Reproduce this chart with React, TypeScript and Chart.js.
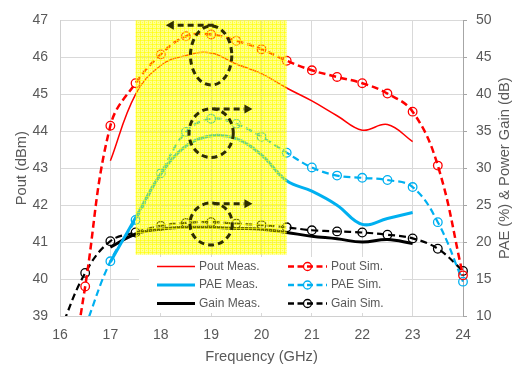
import React, { useEffect, useRef } from "react";
import { Chart, registerables } from "chart.js";

Chart.register(...registerables);

// ---- Data ----
const freqMeas = [17, 17.5, 18, 18.5, 19, 19.5, 20, 20.5, 21, 21.5, 22, 22.5, 23];
const poutMeas = [43.2, 45.0, 45.78, 46.05, 46.12, 45.82, 45.56, 45.17, 44.82, 44.42, 44.03, 44.18, 43.72];
const paeMeas = [17.3, 23.3, 29.2, 33.0, 34.4, 34.0, 31.8, 28.3, 26.9, 25.0, 22.4, 23.2, 24.0];
const gainMeas = [19.3, 21.1, 21.75, 22.0, 22.0, 21.85, 21.75, 21.3, 20.8, 20.45, 20.0, 20.35, 19.8];

const freqSim = [16, 16.5, 17, 17.5, 18, 18.5, 19, 19.5, 20, 20.5, 21, 21.5, 22, 22.5, 23, 23.5, 24];
const poutSim = [35.5, 39.8, 44.15, 45.3, 46.08, 46.57, 46.62, 46.45, 46.22, 45.91, 45.65, 45.47, 45.3, 45.02, 44.53, 43.07, 40.1];
const paeSim = [null, 8.5, 17.4, 23.0, 29.3, 34.9, 36.7, 36.0, 34.25, 32.1, 30.1, 29.0, 28.7, 28.4, 27.45, 22.7, 14.65];
const gainSim = [8, 15.83, 20.13, 21.3, 22.2, 22.6, 22.7, 22.5, 22.3, 22.0, 21.6, 21.45, 21.3, 21.0, 20.5, 19.1, 16.1];

const legendLeft = ["Pout Meas.", "PAE Meas.", "Gain Meas."];
const legendRight = ["Pout Sim.", "PAE Sim.", "Gain Sim."];

// highlighted band (GHz / dBm)
const band = { xMin: 17.5, xMax: 20.5, yMin: 40.66 };
// annotation ellipses (GHz / dBm), arrows: from ax0 to ax1 at ay
const marks = [
  { cx: 19.0, cy: 46.05, rx: 0.41, ry: 0.8, ax0: 19.05, ax1: 18.1, ay: 46.87 },
  { cx: 19.0, cy: 43.95, rx: 0.44, ry: 0.66, ax0: 19.05, ax1: 19.82, ay: 44.6 },
  { cx: 19.0, cy: 41.49, rx: 0.42, ry: 0.57, ax0: 19.05, ax1: 19.82, ay: 42.04 },
];

const RED = "#FF0000";
const BLUE = "#00B0F0";
const BLACK = "#000000";
const TXT = "#595959";
const FONT = "'Liberation Sans', Arial, sans-serif";

const xy = (xs: number[], ys: (number | null)[]) => xs.map((x, i) => ({ x, y: ys[i] }));

export default function App() {
  const ref = useRef<HTMLCanvasElement | null>(null);

  useEffect(() => {
    const canvas = ref.current;
    if (!canvas) return;

    // yellow textured pattern
    const pc = document.createElement("canvas");
    pc.width = 4;
    pc.height = 4;
    const pctx = pc.getContext("2d")!;
    pctx.fillStyle = "rgba(255,255,0,0.42)";
    pctx.fillRect(0, 0, 4, 4);
    pctx.fillStyle = "rgba(255,255,0,0.62)";
    pctx.fillRect(0, 0, 4, 1);
    pctx.fillRect(0, 0, 1, 4);
    pctx.fillStyle = "rgba(255,255,0,0.55)";
    pctx.fillRect(2, 2, 1, 1);

    const clip = { left: 0, top: 6, right: 8, bottom: 0 };

    const overlay = {
      id: "overlay",
      beforeDatasetsDraw(chart: any) {
        const ctx = chart.ctx;
        ctx.save();
        ctx.fillStyle = "#ffffff";
        ctx.fillRect(139, 257, 263, 56);
        ctx.restore();
      },
      afterDatasetsDraw(chart: any) {
        const { ctx, chartArea: ca, scales } = chart;
        const xs = scales.x;
        const ys = scales.y;
        const x0 = xs.getPixelForValue(band.xMin);
        const x1 = xs.getPixelForValue(band.xMax);
        const yb = ys.getPixelForValue(band.yMin);
        ctx.save();
        const pat = ctx.createPattern(pc, "repeat");
        ctx.fillStyle = pat || "rgba(255,255,0,0.5)";
        ctx.fillRect(x0, ca.top, x1 - x0, yb - ca.top);

        ctx.strokeStyle = "#2e2e00";
        ctx.fillStyle = "#2e2e00";
        ctx.lineWidth = 3;
        for (const m of marks) {
          const cx = xs.getPixelForValue(m.cx);
          const cy = ys.getPixelForValue(m.cy);
          const rx = Math.abs(xs.getPixelForValue(m.cx + m.rx) - cx);
          const ry = Math.abs(ys.getPixelForValue(m.cy + m.ry) - cy);
          ctx.setLineDash([6, 4]);
          ctx.beginPath();
          ctx.ellipse(cx, cy, rx, ry, 0, 0, Math.PI * 2);
          ctx.stroke();
          // arrow
          const a0 = xs.getPixelForValue(m.ax0);
          const a1 = xs.getPixelForValue(m.ax1);
          const ay = ys.getPixelForValue(m.ay);
          const dir = a1 > a0 ? 1 : -1;
          const headLen = 8;
          ctx.setLineDash([6, 4]);
          ctx.beginPath();
          ctx.moveTo(a0, ay);
          ctx.lineTo(a1 - dir * headLen, ay);
          ctx.stroke();
          ctx.setLineDash([]);
          ctx.beginPath();
          ctx.moveTo(a1, ay);
          ctx.lineTo(a1 - dir * headLen, ay - 4.5);
          ctx.lineTo(a1 - dir * headLen, ay + 4.5);
          ctx.closePath();
          ctx.fill();
        }
        ctx.restore();
      },
      afterDraw(chart: any) {
        const { ctx, chartArea: ca } = chart;
        ctx.save();
        // right axis title (bottom-to-top)
        ctx.fillStyle = TXT;
        ctx.font = `14.7px ${FONT}`;
        ctx.textAlign = "center";
        ctx.textBaseline = "middle";
        ctx.translate(505, (ca.top + ca.bottom) / 2);
        ctx.rotate(-Math.PI / 2);
        ctx.fillText("PAE (%) & Power Gain (dB)", 0, 0);
        ctx.restore();

        // legend
        ctx.save();
        ctx.font = `12px ${FONT}`;
        ctx.textBaseline = "middle";
        ctx.textAlign = "left";
        const rows = [266.5, 285, 303.5];
        const cols = [RED, BLUE, BLACK];
        const measW = [1.5, 3, 3];
        for (let i = 0; i < 3; i++) {
          const y = rows[i];
          // measured
          ctx.setLineDash([]);
          ctx.strokeStyle = cols[i];
          ctx.lineWidth = measW[i];
          ctx.beginPath();
          ctx.moveTo(157, y);
          ctx.lineTo(195, y);
          ctx.stroke();
          ctx.fillStyle = TXT;
          ctx.fillText(legendLeft[i], 199, y);
          // simulated
          ctx.strokeStyle = cols[i];
          ctx.lineWidth = 2.5;
          ctx.setLineDash([6, 3.5]);
          ctx.beginPath();
          ctx.moveTo(288, y);
          ctx.lineTo(327, y);
          ctx.stroke();
          ctx.setLineDash([]);
          ctx.lineWidth = 1.3;
          ctx.beginPath();
          ctx.arc(307.5, y, 4, 0, Math.PI * 2);
          ctx.stroke();
          ctx.fillStyle = TXT;
          ctx.fillText(legendRight[i], 331, y);
        }
        ctx.restore();
      },
    };

    const meas = (label: string, data: any, color: string, w: number, axis: string) => ({
      label,
      data,
      yAxisID: axis,
      borderColor: color,
      backgroundColor: color,
      borderWidth: w,
      pointRadius: 0,
      tension: 0.4,
      fill: false,
      clip,
    });
    const sim = (label: string, data: any, color: string, w: number, axis: string) => ({
      label,
      data,
      yAxisID: axis,
      borderColor: color,
      backgroundColor: "rgba(0,0,0,0)",
      borderWidth: w,
      borderDash: [7, 4],
      pointRadius: 4.3,
      pointBorderWidth: 1.3,
      pointBorderColor: color,
      pointBackgroundColor: "rgba(0,0,0,0)",
      pointStyle: "circle",
      tension: 0.4,
      fill: false,
      spanGaps: false,
      clip,
    });

    const chart = new Chart(canvas, {
      type: "line",
      data: {
        datasets: [
          meas("Pout Meas.", xy(freqMeas, poutMeas), RED, 1.5, "y"),
          meas("PAE Meas.", xy(freqMeas, paeMeas), BLUE, 3, "y1"),
          meas("Gain Meas.", xy(freqMeas, gainMeas), BLACK, 3, "y1"),
          sim("Pout Sim.", xy(freqSim, poutSim), RED, 2.5, "y"),
          sim("PAE Sim.", xy(freqSim, paeSim), BLUE, 2.2, "y1"),
          sim("Gain Sim.", xy(freqSim, gainSim), BLACK, 2.2, "y1"),
        ] as any,
      },
      options: {
        responsive: false,
        animation: false,
        devicePixelRatio: 1,
        layout: { padding: { top: 12, left: 0, right: 0, bottom: 0 } },
        plugins: { legend: { display: false }, tooltip: { enabled: false } },
        scales: {
          x: {
            type: "linear",
            min: 16,
            max: 24,
            ticks: { stepSize: 1, color: TXT, font: { family: FONT, size: 14 }, padding: 11 },
            grid: { color: "#d9d9d9", drawTicks: false, lineWidth: 1 },
            border: { color: "#d0d0d0" },
            title: {
              display: true,
              text: "Frequency (GHz)",
              color: TXT,
              font: { family: FONT, size: 14.7 },
              padding: { top: 4, bottom: 5 },
            },
            afterFit: (s: any) => {
              s.height = 55;
            },
          },
          y: {
            type: "linear",
            position: "left",
            min: 39,
            max: 47,
            ticks: { stepSize: 1, color: TXT, font: { family: FONT, size: 14 }, padding: 12 },
            grid: { color: "#d9d9d9", drawTicks: false },
            border: { color: "#d0d0d0" },
            title: {
              display: true,
              text: "Pout (dBm)",
              color: TXT,
              font: { family: FONT, size: 14.7 },
              padding: { top: 13, bottom: 0 },
            },
            afterFit: (s: any) => {
              s.width = 60;
            },
          },
          y1: {
            type: "linear",
            position: "right",
            min: 10,
            max: 50,
            ticks: { stepSize: 5, color: TXT, font: { family: FONT, size: 14 }, padding: 9 },
            grid: { drawOnChartArea: false, color: "#a6a6a6", tickLength: 4 },
            border: { color: "#a6a6a6" },
            afterFit: (s: any) => {
              s.width = 53;
            },
          },
        },
      } as any,
      plugins: [overlay],
    });

    return () => chart.destroy();
  }, []);

  return (
    <div style={{ position: "fixed", left: 0, top: 0, width: 516, height: 371, background: "#ffffff" }}>
      <canvas ref={ref} width={516} height={371} style={{ display: "block" }} />
    </div>
  );
}
